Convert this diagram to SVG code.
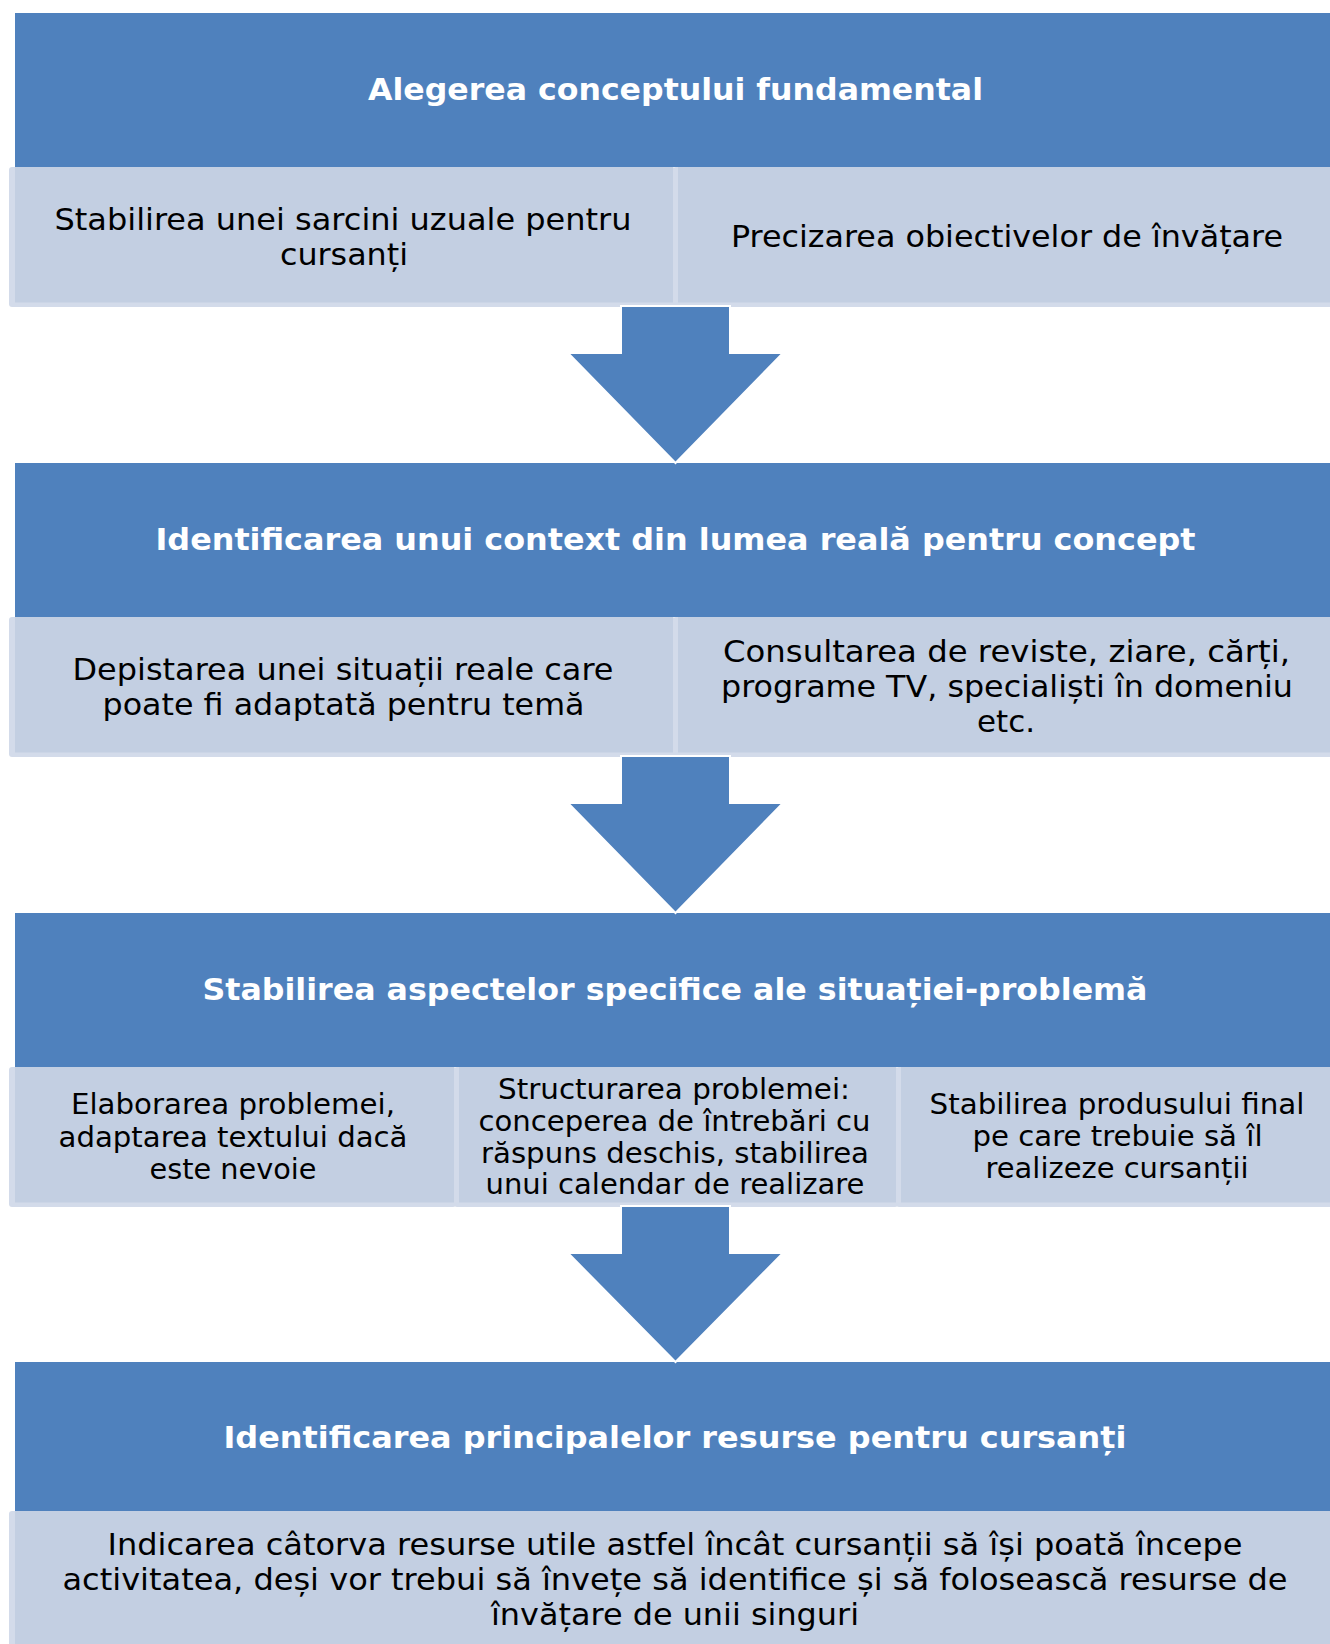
<svg xmlns="http://www.w3.org/2000/svg" width="1330" height="1644" viewBox="0 0 1330 1644">
<style>
.hdr{fill:#4F81BD}
.frame{fill:#D3DBEA}
.fill{fill:#C3CFE2}
.arrow{fill:#4F81BD;stroke:#FFFFFF;stroke-width:2;stroke-linejoin:miter}
.ht{font-family:"DejaVu Sans","Verdana",sans-serif;font-weight:bold;font-size:30px;fill:#FFFFFF;text-anchor:middle}
.bt{font-family:"DejaVu Sans","Verdana",sans-serif;font-size:30px;fill:#000000;text-anchor:middle}
.bs{font-family:"DejaVu Sans","Verdana",sans-serif;font-size:28px;fill:#000000;text-anchor:middle}
</style>
<rect width="1330" height="1644" fill="#FFFFFF"/>

<!-- Step 1 -->
<g id="step1">
<rect class="hdr" x="15" y="13" width="1315" height="154"/>
<text class="ht" x="675.5" y="100" textLength="615" lengthAdjust="spacingAndGlyphs">Alegerea conceptului fundamental</text>
</g>
<g id="step1a">
<rect class="frame" x="9" y="167" width="666" height="140" rx="3"/>
<rect class="fill" x="15" y="167" width="658" height="135.5"/>
<text class="bt" x="343" y="230" textLength="577" lengthAdjust="spacingAndGlyphs">Stabilirea unei sarcini uzuale pentru</text>
<text class="bt" x="344" y="265" textLength="128" lengthAdjust="spacingAndGlyphs">cursanți</text>
</g>
<g id="step1b">
<rect class="frame" x="673" y="167" width="662" height="140" rx="3"/>
<rect class="fill" x="678" y="167" width="657" height="135.5"/>
<text class="bt" x="1007" y="247" textLength="552" lengthAdjust="spacingAndGlyphs">Precizarea obiectivelor de învățare</text>
</g>

<!-- Step 2 -->
<g id="step2">
<rect class="hdr" x="15" y="463" width="1315" height="154"/>
<text class="ht" x="675.5" y="550" textLength="1040" lengthAdjust="spacingAndGlyphs">Identificarea unui context din lumea reală pentru concept</text>
</g>
<g id="step2a">
<rect class="frame" x="9" y="617" width="666" height="140" rx="3"/>
<rect class="fill" x="15" y="617" width="658" height="135.5"/>
<text class="bt" x="343" y="680" textLength="541" lengthAdjust="spacingAndGlyphs">Depistarea unei situații reale care</text>
<text class="bt" x="343.5" y="715" textLength="482" lengthAdjust="spacingAndGlyphs">poate fi adaptată pentru temă</text>
</g>
<g id="step2b">
<rect class="frame" x="673" y="617" width="662" height="140" rx="3"/>
<rect class="fill" x="678" y="617" width="657" height="135.5"/>
<text class="bt" x="1006.5" y="662" textLength="567" lengthAdjust="spacingAndGlyphs">Consultarea de reviste, ziare, cărți,</text>
<text class="bt" x="1007" y="697" textLength="572" lengthAdjust="spacingAndGlyphs">programe TV, specialiști în domeniu</text>
<text class="bt" x="1006" y="732" textLength="58" lengthAdjust="spacingAndGlyphs">etc.</text>
</g>

<!-- Step 3 -->
<g id="step3">
<rect class="hdr" x="15" y="913" width="1315" height="154"/>
<text class="ht" x="675" y="1000" textLength="945" lengthAdjust="spacingAndGlyphs">Stabilirea aspectelor specifice ale situației-problemă</text>
</g>
<g id="step3a">
<rect class="frame" x="9" y="1067" width="447" height="140" rx="3"/>
<rect class="fill" x="15" y="1067" width="439" height="135.5"/>
<text class="bs" x="233" y="1114" textLength="324" lengthAdjust="spacingAndGlyphs">Elaborarea problemei,</text>
<text class="bs" x="233" y="1147" textLength="349" lengthAdjust="spacingAndGlyphs">adaptarea textului dacă</text>
<text class="bs" x="233" y="1179" textLength="167" lengthAdjust="spacingAndGlyphs">este nevoie</text>
</g>
<g id="step3b">
<rect class="frame" x="454" y="1067" width="444" height="140" rx="3"/>
<rect class="fill" x="459" y="1067" width="437" height="135.5"/>
<text class="bs" x="674" y="1099" textLength="352" lengthAdjust="spacingAndGlyphs">Structurarea problemei:</text>
<text class="bs" x="674.5" y="1131" textLength="392" lengthAdjust="spacingAndGlyphs">conceperea de întrebări cu</text>
<text class="bs" x="675" y="1163" textLength="388" lengthAdjust="spacingAndGlyphs">răspuns deschis, stabilirea</text>
<text class="bs" x="675" y="1194" textLength="379" lengthAdjust="spacingAndGlyphs">unui calendar de realizare</text>
</g>
<g id="step3c">
<rect class="frame" x="896" y="1067" width="440" height="140" rx="3"/>
<rect class="fill" x="901" y="1067" width="435" height="135.5"/>
<text class="bs" x="1117" y="1114" textLength="375" lengthAdjust="spacingAndGlyphs">Stabilirea produsului final</text>
<text class="bs" x="1117.5" y="1146" textLength="290" lengthAdjust="spacingAndGlyphs">pe care trebuie să îl</text>
<text class="bs" x="1117" y="1178" textLength="263" lengthAdjust="spacingAndGlyphs">realizeze cursanții</text>
</g>

<!-- Step 4 -->
<g id="step4">
<rect class="hdr" x="15" y="1362" width="1315" height="149"/>
<text class="ht" x="675" y="1448" textLength="903" lengthAdjust="spacingAndGlyphs">Identificarea principalelor resurse pentru cursanți</text>
</g>
<g id="step4a">
<rect class="frame" x="9" y="1511" width="1326" height="150" rx="3"/>
<rect class="fill" x="15" y="1511" width="1320" height="150"/>
<text class="bt" x="675" y="1555" textLength="1135" lengthAdjust="spacingAndGlyphs">Indicarea câtorva resurse utile astfel încât cursanții să își poată începe</text>
<text class="bt" x="675" y="1590" textLength="1225" lengthAdjust="spacingAndGlyphs">activitatea, deși vor trebui să învețe să identifice și să folosească resurse de</text>
<text class="bt" x="675" y="1625" textLength="368" lengthAdjust="spacingAndGlyphs">învățare de unii singuri</text>
</g>

<!-- Connectors -->
<g id="connectors">
<polygon class="arrow" points="621,306 730,306 730,353 783,353 675.5,463 568,353 621,353"/>
<polygon class="arrow" points="621,756 730,756 730,803 783,803 675.5,913 568,803 621,803"/>
<polygon class="arrow" points="621,1206 730,1206 730,1253 783,1253 675.5,1362 568,1253 621,1253"/>
</g>
</svg>
